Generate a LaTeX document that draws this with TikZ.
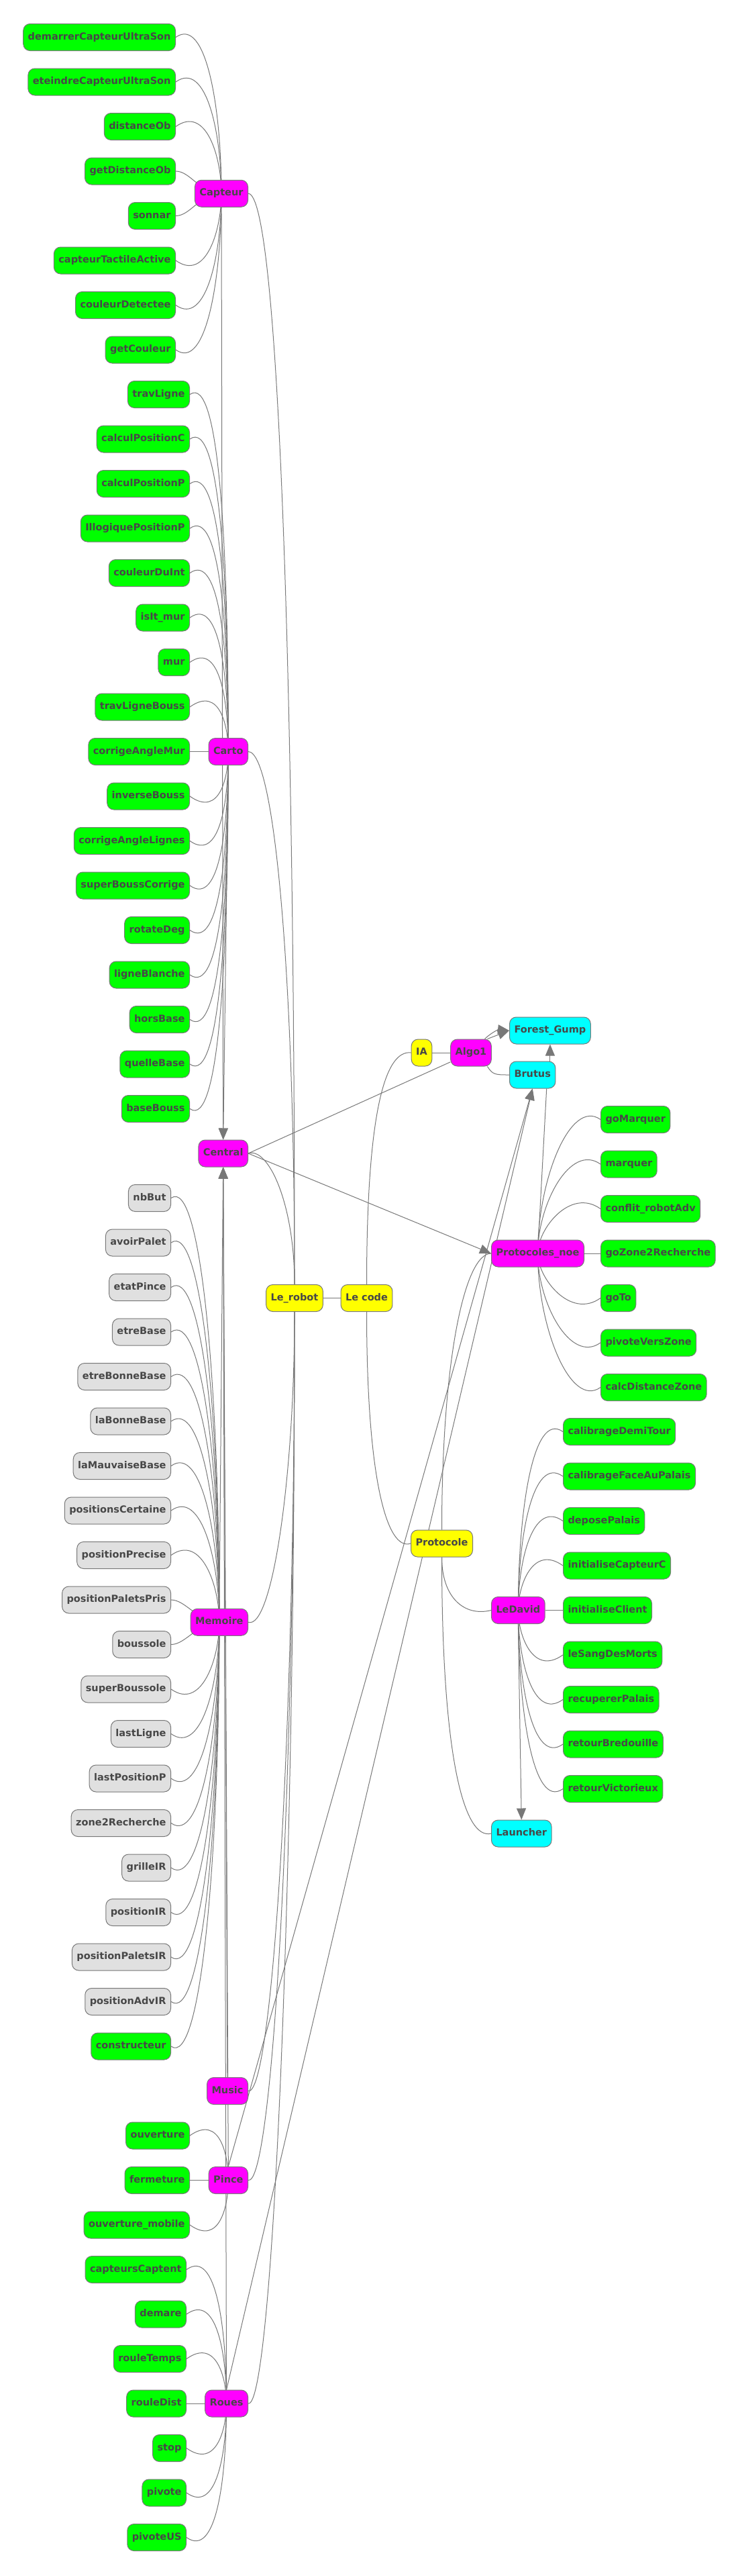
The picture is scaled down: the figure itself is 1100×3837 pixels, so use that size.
\documentclass[tikz,border=0pt]{standalone}
\usepackage{fontspec}
\setmainfont{DejaVu Sans}
\usetikzlibrary{arrows.meta,calc,backgrounds}
\definecolor{edgec}{HTML}{787878}
\definecolor{txtc}{HTML}{474747}
\definecolor{cgrn}{HTML}{00FF00}
\definecolor{cmag}{HTML}{FF00FF}
\definecolor{cyel}{HTML}{FFFF00}
\definecolor{ccyn}{HTML}{00FFFF}
\definecolor{cgry}{HTML}{E0E0E0}
\tikzset{
  box/.style={rectangle, rounded corners=10pt, draw=edgec, line width=1pt,
    minimum height=40pt, inner xsep=7pt, inner ysep=0pt, text=txtc,
    text height=10.6pt, text depth=3.4pt,
    font=\bfseries\fontsize{14.5}{17}\selectfont},
  grn/.style={box, fill=cgrn},
  mag/.style={box, fill=cmag},
  yel/.style={box, fill=cyel},
  cyn/.style={box, fill=ccyn},
  gry/.style={box, fill=cgry},
  ln/.style={draw=edgec, line width=1pt},
  arr/.style={ln, -{Triangle[length=17pt,width=14pt]}},
}
% leaf on the left of its parent
\newcommand\lleaf[2]{\draw[ln] let \p1=(#1.east), \p2=(#2.center),
  \n1={0.55*(\y1-\y2)}, \n2={ifthenelse(\y1>\y2,32,-32)} in
  (\p1) .. controls +(45,\n2) and +(0,\n1) .. (\p2);}
% leaf on the right of its parent
\newcommand\rleaf[2]{\draw[ln] let \p1=(#1.west), \p2=(#2.center),
  \n1={0.55*(\y1-\y2)}, \n2={ifthenelse(\y1>\y2,32,-32)} in
  (\p1) .. controls +(-45,\n2) and +(0,\n1) .. (\p2);}
% leaf next to its parent
\newcommand\aleaf[2]{\draw[ln] (#1.east) .. controls +(22,0) and +(-32,0) .. (#2.center);}
% leaf on the same row
\newcommand\sleaf[2]{\draw[ln] (#1) -- (#2);}
\begin{document}
\begin{tikzpicture}[x=1pt,y=1pt]
\useasboundingbox (0,0) rectangle (1100,-3837);
% ---------------- Capteur
\node[grn,anchor=east] (demarrer) at (262,-55.5) {demarrerCapteurUltraSon};
\node[grn,anchor=east] (eteindre) at (262,-122) {eteindreCapteurUltraSon};
\node[grn,anchor=east] (distanceOb) at (262,-188.5) {distanceOb};
\node[grn,anchor=east] (getDistanceOb) at (262,-255) {getDistanceOb};
\node[grn,anchor=east] (sonnar) at (262,-321.5) {sonnar};
\node[grn,anchor=east] (capteurTactileActive) at (262,-388) {capteurTactileActive};
\node[grn,anchor=east] (couleurDetectee) at (262,-454.5) {couleurDetectee};
\node[grn,anchor=east] (getCouleur) at (262,-521) {getCouleur};
\node[mag,anchor=east] (Capteur) at (370,-288.25) {Capteur};
% ---------------- Carto
\node[grn,anchor=east] (travLigne) at (283,-587.5) {travLigne};
\node[grn,anchor=east] (calculPositionC) at (283,-654) {calculPositionC};
\node[grn,anchor=east] (calculPositionP) at (283,-720.5) {calculPositionP};
\node[grn,anchor=east] (IllogiquePositionP) at (283,-787) {IllogiquePositionP};
\node[grn,anchor=east] (couleurDuInt) at (283,-853.5) {couleurDuInt};
\node[grn,anchor=east] (isItmur) at (283,-920) {isIt\_mur};
\node[grn,anchor=east] (mur) at (283,-986.5) {mur};
\node[grn,anchor=east] (travLigneBouss) at (283,-1053) {travLigneBouss};
\node[grn,anchor=east] (corrigeAngleMur) at (283,-1119.5) {corrigeAngleMur};
\node[grn,anchor=east] (inverseBouss) at (283,-1186) {inverseBouss};
\node[grn,anchor=east] (corrigeAngleLignes) at (283,-1252.5) {corrigeAngleLignes};
\node[grn,anchor=east] (superBoussCorrige) at (283,-1319) {superBoussCorrige};
\node[grn,anchor=east] (rotateDeg) at (283,-1385.5) {rotateDeg};
\node[grn,anchor=east] (ligneBlanche) at (283,-1452) {ligneBlanche};
\node[grn,anchor=east] (horsBase) at (283,-1518.5) {horsBase};
\node[grn,anchor=east] (quelleBase) at (283,-1585) {quelleBase};
\node[grn,anchor=east] (baseBouss) at (283,-1651.5) {baseBouss};
\node[mag,anchor=east] (Carto) at (370,-1119.5) {Carto};
% ---------------- Central
\node[mag,anchor=east] (Central) at (370,-1718) {Central};
% ---------------- Memoire
\node[gry,anchor=east] (nbBut) at (255,-1784.5) {nbBut};
\node[gry,anchor=east] (avoirPalet) at (255,-1851) {avoirPalet};
\node[gry,anchor=east] (etatPince) at (255,-1917.5) {etatPince};
\node[gry,anchor=east] (etreBase) at (255,-1984) {etreBase};
\node[gry,anchor=east] (etreBonneBase) at (255,-2050.5) {etreBonneBase};
\node[gry,anchor=east] (laBonneBase) at (255,-2117) {laBonneBase};
\node[gry,anchor=east] (laMauvaiseBase) at (255,-2183.5) {laMauvaiseBase};
\node[gry,anchor=east] (positionsCertaine) at (255,-2250) {positionsCertaine};
\node[gry,anchor=east] (positionPrecise) at (255,-2316.5) {positionPrecise};
\node[gry,anchor=east] (positionPaletsPris) at (255,-2383) {positionPaletsPris};
\node[gry,anchor=east] (boussole) at (255,-2449.5) {boussole};
\node[gry,anchor=east] (superBoussole) at (255,-2516) {superBoussole};
\node[gry,anchor=east] (lastLigne) at (255,-2582.5) {lastLigne};
\node[gry,anchor=east] (lastPositionP) at (255,-2649) {lastPositionP};
\node[gry,anchor=east] (zoneRecherche) at (255,-2715.5) {zone2Recherche};
\node[gry,anchor=east] (grilleIR) at (255,-2782) {grilleIR};
\node[gry,anchor=east] (positionIR) at (255,-2848.5) {positionIR};
\node[gry,anchor=east] (positionPaletsIR) at (255,-2915) {positionPaletsIR};
\node[gry,anchor=east] (positionAdvIR) at (255,-2981.5) {positionAdvIR};
\node[grn,anchor=east] (constructeur) at (255,-3048) {constructeur};
\node[mag,anchor=east] (Memoire) at (370,-2416.25) {Memoire};
% ---------------- Music, Pince
\node[mag,anchor=east] (Music) at (370,-3114.5) {Music};
\node[grn,anchor=east] (ouverture) at (283,-3181) {ouverture};
\node[grn,anchor=east] (fermeture) at (283,-3247.5) {fermeture};
\node[grn,anchor=east] (ouverturemobile) at (283,-3314) {ouverture\_mobile};
\node[mag,anchor=east] (Pince) at (370,-3247.5) {Pince};
% ---------------- Roues
\node[grn,anchor=east] (capteursCaptent) at (278,-3380.5) {capteursCaptent};
\node[grn,anchor=east] (demare) at (278,-3447) {demare};
\node[grn,anchor=east] (rouleTemps) at (278,-3513.5) {rouleTemps};
\node[grn,anchor=east] (rouleDist) at (278,-3580) {rouleDist};
\node[grn,anchor=east] (stop) at (278,-3646.5) {stop};
\node[grn,anchor=east] (pivote) at (278,-3713) {pivote};
\node[grn,anchor=east] (pivoteUS) at (278,-3779.5) {pivoteUS};
\node[mag,anchor=east] (Roues) at (370,-3580) {Roues};
% ---------------- right part
\node[yel] (Lerobot) at (439,-1933.5) {Le\_robot};
\node[yel] (Lecode) at (546.5,-1933.5) {Le code};
\node[yel] (IA) at (628.5,-1568) {IA};
\node[mag] (Algo1) at (702,-1568) {Algo1};
\node[cyn,anchor=west] (ForestGump) at (759,-1535) {Forest\_Gump};
\node[cyn,anchor=west] (Brutus) at (759,-1601) {Brutus};
\node[mag,anchor=west] (Protocolesnoe) at (732,-1867) {Protocoles\_noe};
\node[grn,anchor=west] (goMarquer) at (895,-1667.5) {goMarquer};
\node[grn,anchor=west] (marquer) at (895,-1734) {marquer};
\node[grn,anchor=west] (conflit) at (895,-1800.5) {conflit\_robotAdv};
\node[grn,anchor=west] (goZone) at (895,-1867) {goZone2Recherche};
\node[grn,anchor=west] (goTo) at (895,-1933.5) {goTo};
\node[grn,anchor=west] (pivoteVersZone) at (895,-2000) {pivoteVersZone};
\node[grn,anchor=west] (calcDistanceZone) at (895,-2066.5) {calcDistanceZone};
\node[yel,anchor=west] (Protocole) at (612,-2299) {Protocole};
\node[mag,anchor=west] (LeDavid) at (732,-2398.5) {LeDavid};
\node[cyn,anchor=west] (Launcher) at (732,-2731) {Launcher};
\node[grn,anchor=west] (calibrageDemiTour) at (839,-2132.5) {calibrageDemiTour};
\node[grn,anchor=west] (calibrageFace) at (839,-2199) {calibrageFaceAuPalais};
\node[grn,anchor=west] (deposePalais) at (839,-2265.5) {deposePalais};
\node[grn,anchor=west] (initialiseCapteurC) at (839,-2332) {initialiseCapteurC};
\node[grn,anchor=west] (initialiseClient) at (839,-2398.5) {initialiseClient};
\node[grn,anchor=west] (leSangDesMorts) at (839,-2465) {leSangDesMorts};
\node[grn,anchor=west] (recupererPalais) at (839,-2531.5) {recupererPalais};
\node[grn,anchor=west] (retourBredouille) at (839,-2598) {retourBredouille};
\node[grn,anchor=west] (retourVictorieux) at (839,-2664.5) {retourVictorieux};
% ================= connectors
\begin{scope}[on background layer]
\fill[white] (0,0) rectangle (1100,-3837);
% Capteur leaves
\lleaf{demarrer}{Capteur}
\lleaf{eteindre}{Capteur}
\lleaf{distanceOb}{Capteur}
\aleaf{getDistanceOb}{Capteur}
\aleaf{sonnar}{Capteur}
\lleaf{capteurTactileActive}{Capteur}
\lleaf{couleurDetectee}{Capteur}
\lleaf{getCouleur}{Capteur}
% Carto leaves
\lleaf{travLigne}{Carto}
\lleaf{calculPositionC}{Carto}
\lleaf{calculPositionP}{Carto}
\lleaf{IllogiquePositionP}{Carto}
\lleaf{couleurDuInt}{Carto}
\lleaf{isItmur}{Carto}
\lleaf{mur}{Carto}
\lleaf{travLigneBouss}{Carto}
\sleaf{corrigeAngleMur}{Carto}
\lleaf{inverseBouss}{Carto}
\lleaf{corrigeAngleLignes}{Carto}
\lleaf{superBoussCorrige}{Carto}
\lleaf{rotateDeg}{Carto}
\lleaf{ligneBlanche}{Carto}
\lleaf{horsBase}{Carto}
\lleaf{quelleBase}{Carto}
\lleaf{baseBouss}{Carto}
% Memoire leaves
\lleaf{nbBut}{Memoire}
\lleaf{avoirPalet}{Memoire}
\lleaf{etatPince}{Memoire}
\lleaf{etreBase}{Memoire}
\lleaf{etreBonneBase}{Memoire}
\lleaf{laBonneBase}{Memoire}
\lleaf{laMauvaiseBase}{Memoire}
\lleaf{positionsCertaine}{Memoire}
\lleaf{positionPrecise}{Memoire}
\aleaf{positionPaletsPris}{Memoire}
\aleaf{boussole}{Memoire}
\lleaf{superBoussole}{Memoire}
\lleaf{lastLigne}{Memoire}
\lleaf{lastPositionP}{Memoire}
\lleaf{zoneRecherche}{Memoire}
\lleaf{grilleIR}{Memoire}
\lleaf{positionIR}{Memoire}
\lleaf{positionPaletsIR}{Memoire}
\lleaf{positionAdvIR}{Memoire}
\lleaf{constructeur}{Memoire}
% Pince leaves
\lleaf{ouverture}{Pince}
\sleaf{fermeture}{Pince}
\lleaf{ouverturemobile}{Pince}
% Roues leaves
\lleaf{capteursCaptent}{Roues}
\lleaf{demare}{Roues}
\lleaf{rouleTemps}{Roues}
\sleaf{rouleDist}{Roues}
\lleaf{stop}{Roues}
\lleaf{pivote}{Roues}
\lleaf{pivoteUS}{Roues}
% Protocoles_noe leaves
\rleaf{goMarquer}{Protocolesnoe}
\rleaf{marquer}{Protocolesnoe}
\rleaf{conflit}{Protocolesnoe}
\sleaf{goZone}{Protocolesnoe}
\rleaf{goTo}{Protocolesnoe}
\rleaf{pivoteVersZone}{Protocolesnoe}
\rleaf{calcDistanceZone}{Protocolesnoe}
% LeDavid leaves
\rleaf{calibrageDemiTour}{LeDavid}
\rleaf{calibrageFace}{LeDavid}
\rleaf{deposePalais}{LeDavid}
\rleaf{initialiseCapteurC}{LeDavid}
\sleaf{initialiseClient}{LeDavid}
\rleaf{leSangDesMorts}{LeDavid}
\rleaf{recupererPalais}{LeDavid}
\rleaf{retourBredouille}{LeDavid}
\rleaf{retourVictorieux}{LeDavid}
% into Central
\draw[arr] (Capteur.south) -- (Central.north);
\draw[arr] (Carto.south) -- (Central.north);
\draw[arr] (Memoire.north) -- (Central.south);
\draw[arr] (Music.north) -- (Central.south);
\draw[arr] (Pince.north) -- (Central.south);
\draw[arr] (Roues.north) -- (Central.south);
% into Le_robot
\draw[ln] (Capteur.east) .. controls +(45,0) and +(0,900) .. (Lerobot.north);
\draw[ln] (Carto.east) .. controls +(40,0) and +(0,450) .. (Lerobot.north);
\draw[ln] (Central.east) .. controls +(30,10) and +(0,120) .. (Lerobot.north);
\draw[ln] (Memoire.east) .. controls +(35,-12) and +(0,-250) .. (Lerobot.south);
\draw[ln] (Music.east) .. controls +(35,-8) and +(0,-650) .. (Lerobot.south);
\draw[ln] (Pince.east) .. controls +(35,-8) and +(0,-750) .. (Lerobot.south);
\draw[ln] (Roues.east) .. controls +(35,-8) and +(0,-900) .. (Lerobot.south);
% Central out
\draw[ln] (Central.east) -- (Algo1);
\draw[arr] (Central.east) -- (Protocolesnoe.west);
% right part
\draw[ln] (Lerobot) -- (Lecode);
\draw[ln] (Lecode.north) .. controls +(0,250) and +(-40,5) .. (IA.west);
\draw[ln] (Lecode.south) .. controls +(0,-250) and +(-35,-12) .. (Protocole.west);
\draw[ln] (IA) -- (Algo1);
\draw[arr] (Algo1.40) -- (ForestGump.west);
\draw[arr] (Algo1.45) to[bend left=25] (ForestGump.west);
\draw[ln] (Algo1.-40) .. controls +(8,-12) and +(-22,0) .. (Brutus.west);
\draw[arr] (Brutus.north -| ForestGump.south) -- (ForestGump.south);
\draw[ln] ($(Brutus.south)+(21,0)$) -- ($(Protocolesnoe.north)+(1,0)$);
\draw[arr] (Pince.north) -- (Brutus.south);
\draw[arr] (Roues.north) -- (Brutus.south);
\draw[ln] (Protocole.north) .. controls +(0,250) and +(-40,0) .. (Protocolesnoe.west);
\draw[ln] (Protocole.south) .. controls +(0,-60) and +(-40,-10) .. (LeDavid.west);
\draw[ln] (Protocole.south) .. controls +(0,-300) and +(-40,-10) .. (Launcher.west);
\draw[arr] (LeDavid.south) -- (Launcher.north);
\end{scope}
\end{tikzpicture}
\end{document}
